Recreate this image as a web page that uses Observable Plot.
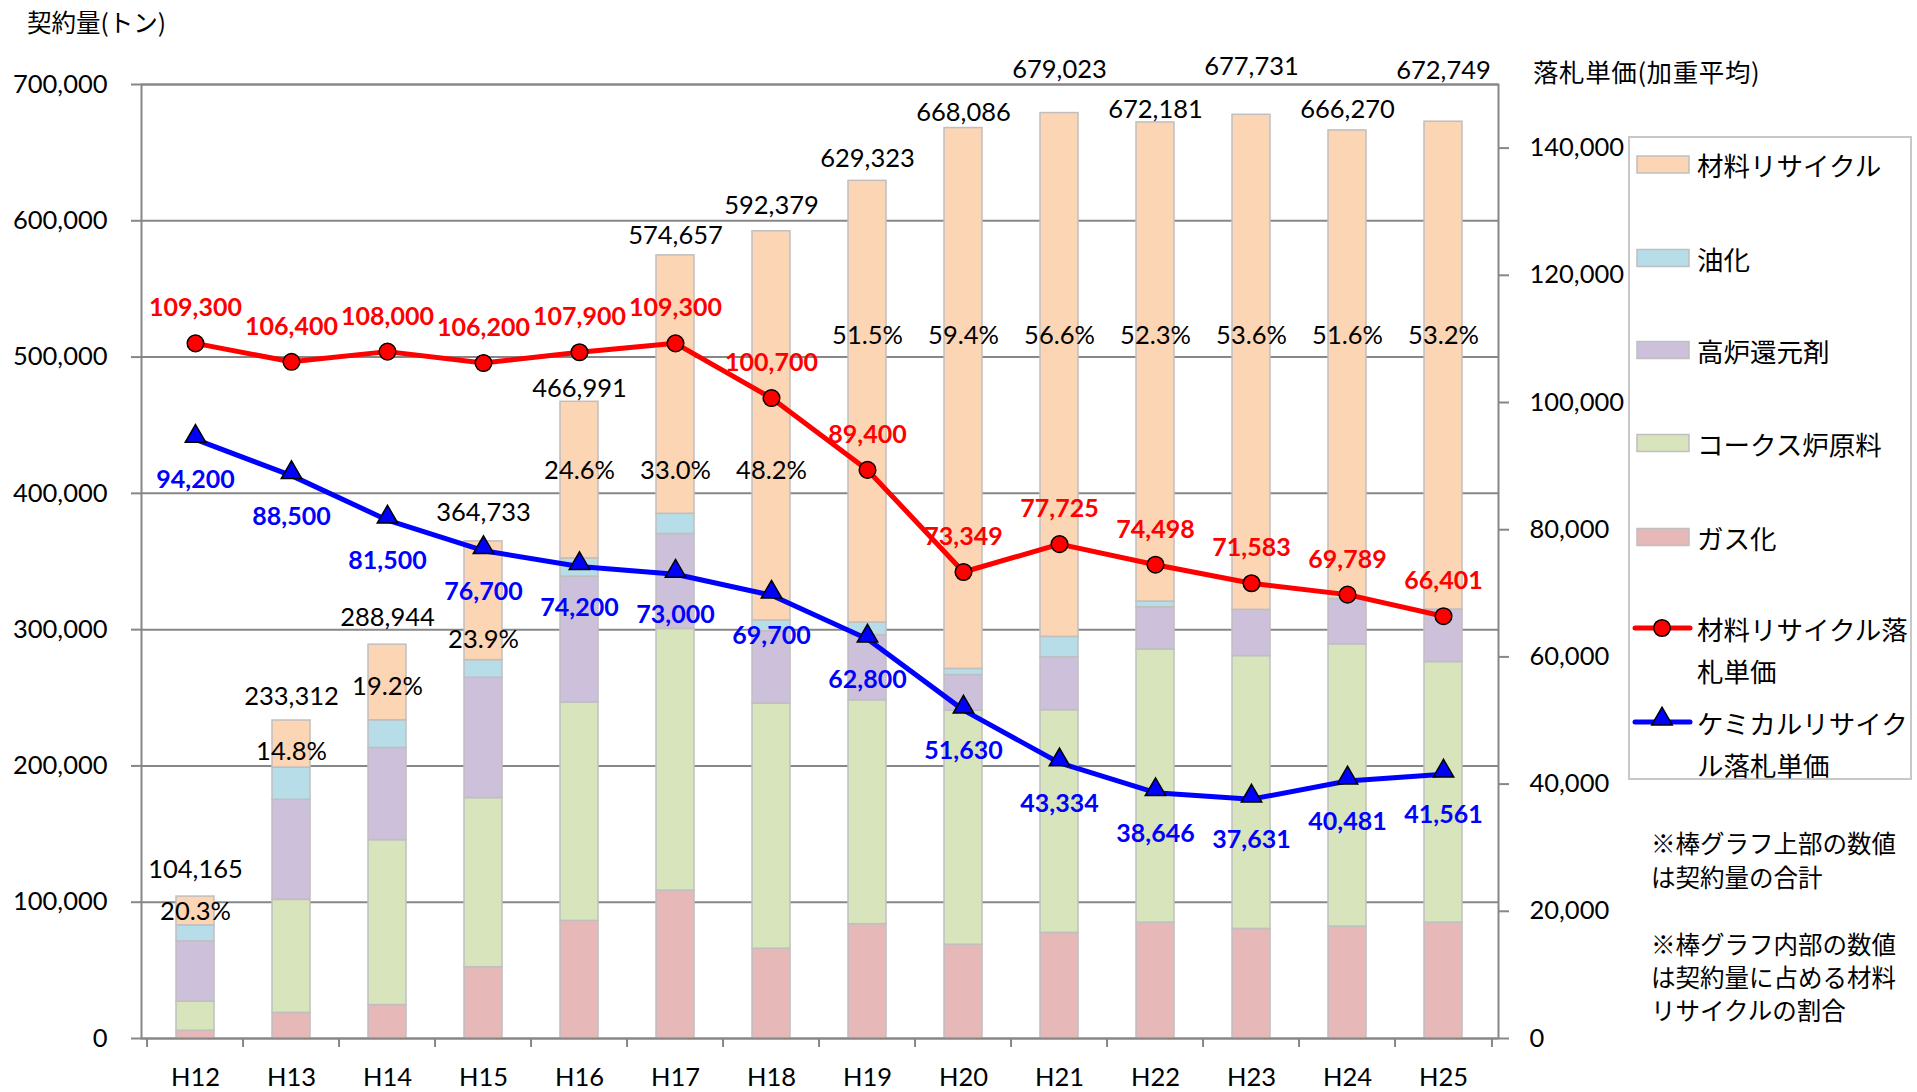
<!DOCTYPE html>
<html>
<head>
<meta charset="utf-8">
<script src="https://cdn.jsdelivr.net/npm/d3@7"></script>
<script src="https://cdn.jsdelivr.net/npm/@observablehq/plot@0.6"></script>
<style>
  html, body { margin: 0; padding: 0; background: #fff; }
  #wrap { position: relative; width: 1917px; height: 1092px; overflow: hidden; }
  #chart { position: absolute; left: 0; top: 0; }
  .jp { font-family: "Noto Sans CJK JP", sans-serif; color: #000; position: absolute; white-space: nowrap; }
  #legend { position: absolute; left: 1628px; top: 136px; width: 284px; height: 644px; border: 2px solid #c8c8c8; box-sizing: border-box; }
</style>
</head>
<body>
<div id="wrap">
  <div id="chart"></div>
  <div class="jp" style="left:27px; top:6px; font-size:24.5px; line-height:32px;">契約量(トン)</div>
  <div class="jp" style="left:1533px; top:55px; font-size:25.5px; line-height:32px; letter-spacing:0.6px;">落札単価(加重平均)</div>
  <div id="legend"></div>
  <div class="jp" style="left:1651px; top:826px; font-size:24.5px; line-height:34px;">※棒グラフ上部の数値<br>は契約量の合計</div>
  <div class="jp" style="left:1651px; top:927px; font-size:24.5px; line-height:33px;">※棒グラフ内部の数値<br>は契約量に占める材料<br>リサイクルの割合</div>
</div>
<script>
// ---------------- data ----------------
const categories = ["H12","H13","H14","H15","H16","H17","H18","H19","H20","H21","H22","H23","H24","H25"];
const seriesNames = ["ガス化","コークス炉原料","高炉還元剤","油化","材料リサイクル"];
const gasification = [5700, 18800, 24500, 52300, 86300, 108500, 65900, 83900, 68800, 77500, 85000, 80400, 82100, 85000];
const cokeOven     = [21300, 82900, 121000, 124100, 160200, 192000, 179900, 164300, 171800, 163400, 200500, 200200, 207100, 191200];
const blastFurnace = [44300, 73400, 67700, 88300, 92400, 69700, 53000, 47700, 26100, 38800, 30900, 33900, 33300, 38600];
const liquefaction = [11700, 23700, 20300, 12900, 13400, 14800, 8000, 9300, 4500, 15000, 4200, 0, 0, 0];
const materialRecycling = [21146, 34530, 55477, 87171, 114880, 189637, 285527, 324101, 396843, 384327, 351551, 363264, 343795, 357902];
const totals = [104165, 233312, 288944, 364733, 466991, 574657, 592379, 629323, 668086, 679023, 672181, 677731, 666270, 672749];
const materialShare = ["20.3%","14.8%","19.2%","23.9%","24.6%","33.0%","48.2%","51.5%","59.4%","56.6%","52.3%","53.6%","51.6%","53.2%"];
const materialPrice = [109300, 106400, 108000, 106200, 107900, 109300, 100700, 89400, 73349, 77725, 74498, 71583, 69789, 66401];
const chemicalPrice = [94200, 88500, 81500, 76700, 74200, 73000, 69700, 62800, 51630, 43334, 38646, 37631, 40481, 41561];
const leftTicks = [0, 100000, 200000, 300000, 400000, 500000, 600000, 700000];
const rightTicks = [0, 20000, 40000, 60000, 80000, 100000, 120000, 140000];

// ---------------- layout / style ----------------
const colors = ["#e6b8b7", "#d8e4bc", "#ccc0da", "#b7dde8", "#fcd5b4"];
const leftMax = 700000, rightMax = 150000;
const k = leftMax / rightMax; // price -> left-axis units
// where the labels sit (in tons), as placed in the original
const shareLabelAt = [92800, 210300, 257800, 292800, 416600, 416600, 416600, 515500, 515500, 515500, 515500, 515500, 515500, 515500];
const totalLabelAt = [124000, 251000, 309000, 385500, 477000, 589000, 611300, 645300, 679400, 710500, 681200, 712600, 681200, 710000];

const segs = [gasification, cokeOven, blastFurnace, liquefaction, materialRecycling];
const stacked = [];
categories.forEach((c, i) => {
  segs.forEach((arr, s) => stacked.push({cat: c, series: seriesNames[s], value: arr[i]}));
});
const rows = categories.map((c, i) => ({
  cat: c, total: totals[i], totalAt: totalLabelAt[i], share: materialShare[i], shareAt: shareLabelAt[i],
  mat: materialPrice[i] * k, chem: chemicalPrice[i] * k,
  matLabel: d3.format(",")(materialPrice[i]), chemLabel: d3.format(",")(chemicalPrice[i])
}));

const W = 1917, H = 1092;
const mL = 141, mR = 419, mT = 84, mB = 54;
const step = (W - mL - mR) / categories.length;
const fmt = d3.format(",");
const grid = "#878787";
const numFont = "Lato, 'Noto Sans', sans-serif";

const chart = Plot.plot({
  width: W, height: H,
  marginLeft: mL, marginRight: mR, marginTop: mT, marginBottom: mB,
  style: {fontFamily: numFont, fontSize: "25.5px", color: "#000", background: "transparent", overflow: "visible"},
  x: {type: "band", domain: categories, paddingInner: 0.6, paddingOuter: 0.3, axis: null},
  y: {domain: [0, leftMax], axis: null},
  color: {domain: seriesNames, range: colors},
  marks: [
    Plot.gridY(leftTicks, {stroke: grid, strokeOpacity: 1, strokeWidth: 2}),
    Plot.barY(stacked, {x: "cat", y: "value", fill: "series", stroke: "#bfbfbf", strokeWidth: 1.5, order: seriesNames}),
    Plot.frame({stroke: grid, strokeWidth: 2}),
    // left axis
    Plot.axisY({anchor: "left", ticks: leftTicks, tickFormat: fmt, tickSize: 10, tickPadding: 24, stroke: grid, strokeWidth: 2, fontSize: 25.5, label: null}),
    // right axis (price)
    Plot.axisY({anchor: "right", ticks: rightTicks.map(v => v * k), tickFormat: d => fmt(Math.round(d / k)), tickSize: 10, tickPadding: 21, stroke: grid, strokeWidth: 2, fontSize: 25.5, label: null}),
    // category axis labels
    Plot.axisX({anchor: "bottom", tickSize: 0, tickPadding: 29, fontSize: 25.5, label: null}),
    // category boundary ticks
    Plot.ruleX(categories, {x: d => d, dx: -step / 2, y1: 0, y2: 0, insetBottom: -9, stroke: grid, strokeWidth: 2}),
    Plot.ruleX([categories[categories.length - 1]], {x: d => d, dx: step / 2, y1: 0, y2: 0, insetBottom: -9, stroke: grid, strokeWidth: 2}),
    // totals & shares
    Plot.text(rows, {x: "cat", y: "totalAt", text: d => fmt(d.total), fill: "#000", fontSize: 25.5}),
    Plot.text(rows, {x: "cat", y: "shareAt", text: "share", fill: "#000", fontSize: 25.5}),
    // price lines
    Plot.line(rows, {x: "cat", y: "mat", stroke: "#ff0000", strokeWidth: 5, strokeLinejoin: "round"}),
    Plot.line(rows, {x: "cat", y: "chem", stroke: "#0000ff", strokeWidth: 5, strokeLinejoin: "round"}),
    Plot.dot(rows, {x: "cat", y: "mat", r: 8.3, fill: "#ff0000", stroke: "#000", strokeWidth: 1.5}),
    Plot.dot(rows, {x: "cat", y: "chem", r: 7.6, symbol: "triangle", dy: -3, fill: "#0000ff", stroke: "#000", strokeWidth: 1.5}),
    Plot.text(rows, {x: "cat", y: "mat", text: "matLabel", dy: -35, fill: "#ff0000", fontWeight: "bold", fontSize: 25}),
    Plot.text(rows, {x: "cat", y: "chem", text: "chemLabel", dy: 41, fill: "#0000ff", fontWeight: "bold", fontSize: 25})
  ]
});
document.getElementById("chart").appendChild(chart);

// ---------------- legend ----------------
const legendItems = [
  {type: "box", color: colors[4], lines: ["材料リサイクル"]},
  {type: "box", color: colors[3], lines: ["油化"]},
  {type: "box", color: colors[2], lines: ["高炉還元剤"]},
  {type: "box", color: colors[1], lines: ["コークス炉原料"]},
  {type: "box", color: colors[0], lines: ["ガス化"]},
  {type: "circle", color: "#ff0000", lines: ["材料リサイクル落", "札単価"]},
  {type: "triangle", color: "#0000ff", lines: ["ケミカルリサイク", "ル落札単価"]}
];
const legendY = [28.5, 122, 214, 307, 401, 492, 586]; // centers relative to box top
const lg = d3.select("#legend").append("svg").attr("width", 300).attr("height", 700)
  .style("position", "absolute").style("left", "-2px").style("top", "-2px").style("overflow", "visible");
legendItems.forEach((it, i) => {
  const cy = legendY[i];
  if (it.type === "box") {
    lg.append("rect").attr("x", 9).attr("y", cy - 8.5).attr("width", 52).attr("height", 17)
      .attr("fill", it.color).attr("stroke", "#bfbfbf").attr("stroke-width", 1.5);
  } else {
    lg.append("line").attr("x1", 7).attr("x2", 62).attr("y1", cy).attr("y2", cy)
      .attr("stroke", it.color).attr("stroke-width", 5).attr("stroke-linecap", "round");
    if (it.type === "circle") {
      lg.append("circle").attr("cx", 34).attr("cy", cy).attr("r", 8.3).attr("fill", it.color).attr("stroke", "#000").attr("stroke-width", 1.5);
    } else {
      lg.append("path").attr("transform", `translate(34,${cy - 3})`).attr("d", d3.symbol(d3.symbolTriangle, Math.PI * 7.6 * 7.6)())
        .attr("fill", it.color).attr("stroke", "#000").attr("stroke-width", 1.5);
    }
  }
  it.lines.forEach((t, j) => {
    lg.append("text").attr("x", 69).attr("y", cy + j * 42).attr("dominant-baseline", "central")
      .attr("font-family", "'Noto Sans CJK JP', sans-serif").attr("font-size", 26.5).attr("fill", "#000").text(t);
  });
});
</script>
</body>
</html>
